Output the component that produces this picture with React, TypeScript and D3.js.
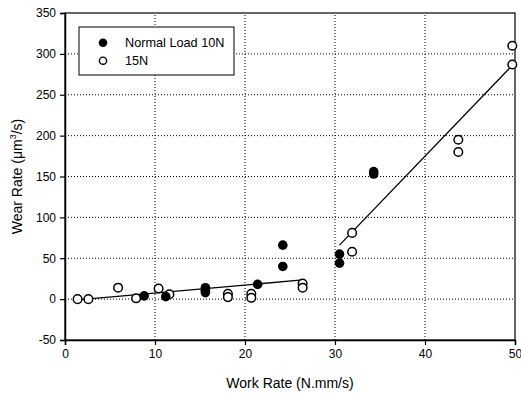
import React, { useEffect, useRef } from 'react';
import * as d3 from 'd3';

// Normal load 10N (filled)
const load10X = [8.8, 11.2, 15.6, 15.6, 15.6, 21.4, 24.2, 24.2, 30.5, 30.5, 34.3, 34.3];
const load10Y = [4, 3, 14, 11, 8, 18, 66, 40, 55, 44, 156, 153];

// 15N (open)
const load15X = [1.4, 2.6, 5.9, 7.9, 10.4, 11.6, 18.1, 18.1, 20.7, 20.7, 26.4, 26.4, 31.9, 31.9, 43.7, 43.7, 49.7, 49.7];
const load15Y = [0, 0, 14, 1, 13, 6, 6.5, 2.5, 6.5, 1.6, 19, 14, 81, 58, 195, 180, 310, 287];

// fitted lines (two regimes)
const lowFitX = [1.4, 26.4];
const lowFitY = [-1, 23.5];
const highFitX = [30.5, 49.7];
const highFitY = [66, 286];

const xTicks = [0, 10, 20, 30, 40, 50];
const yTicks = [-50, 0, 50, 100, 150, 200, 250, 300, 350];
const legendLabels = ['Normal Load 10N', '15N'];

const FONT = '"Liberation Sans", Arial, sans-serif';

const App: React.FC = () => {
  const ref = useRef<SVGSVGElement | null>(null);

  useEffect(() => {
    const width = 521;
    const height = 395;
    const svg = d3.select(ref.current).attr('width', width).attr('height', height);
    svg.selectAll('*').remove();

    const x = d3.scaleLinear().domain([0, 50]).range([65, 515]);
    const y = d3.scaleLinear().domain([-50, 350]).range([340, 13]);

    // grid
    const grid = svg.append('g');
    grid.selectAll('.gx')
      .data(xTicks.filter(t => t > 0 && t < 50))
      .enter().append('line')
      .attr('x1', d => x(d)).attr('x2', d => x(d))
      .attr('y1', y(-50)).attr('y2', y(350))
      .attr('stroke', '#000').attr('stroke-width', 1)
      .attr('stroke-dasharray', '1,2');
    grid.selectAll('.gy')
      .data(yTicks.filter(t => t > -50 && t < 350))
      .enter().append('line')
      .attr('x1', x(0)).attr('x2', x(50))
      .attr('y1', d => y(d)).attr('y2', d => y(d))
      .attr('stroke', '#000').attr('stroke-width', 1)
      .attr('stroke-dasharray', '1,2');

    // frame
    svg.append('rect')
      .attr('x', x(0)).attr('y', y(350))
      .attr('width', x(50) - x(0)).attr('height', y(-50) - y(350))
      .attr('fill', 'none').attr('stroke', '#000').attr('stroke-width', 1.2);

    // axes (plain hyphen for negatives, like the original)
    const fmt = (d: d3.NumberValue) => String(d);
    const xAxis = svg.append('g')
      .attr('transform', `translate(0,${y(-50)})`)
      .call(d3.axisBottom(x).tickValues(xTicks).tickFormat(fmt).tickSize(5).tickPadding(4));
    const yAxis = svg.append('g')
      .attr('transform', `translate(${x(0)},0)`)
      .call(d3.axisLeft(y).tickValues(yTicks).tickFormat(fmt).tickSize(5).tickPadding(4));
    [xAxis, yAxis].forEach(a => {
      a.select('.domain').attr('stroke-width', 1.5);
      a.selectAll('line').attr('stroke-width', 1.2);
      a.selectAll('text').attr('font-family', FONT).attr('font-size', 12).attr('fill', '#000');
    });

    // fit lines
    const line = d3.line<[number, number]>().x(d => x(d[0])).y(d => y(d[1]));
    [[lowFitX, lowFitY], [highFitX, highFitY]].forEach(([fx, fy]) => {
      svg.append('path')
        .attr('d', line(fx.map((v, i) => [v, fy[i]] as [number, number])))
        .attr('fill', 'none').attr('stroke', '#000').attr('stroke-width', 1.3);
    });

    // points
    svg.append('g').selectAll('circle')
      .data(load15X.map((v, i) => [v, load15Y[i]]))
      .enter().append('circle')
      .attr('cx', d => x(d[0])).attr('cy', d => y(d[1])).attr('r', 4.3)
      .attr('fill', '#fff').attr('stroke', '#000').attr('stroke-width', 1.5);
    svg.append('g').selectAll('circle')
      .data(load10X.map((v, i) => [v, load10Y[i]]))
      .enter().append('circle')
      .attr('cx', d => x(d[0])).attr('cy', d => y(d[1])).attr('r', 4.8)
      .attr('fill', '#000');

    // legend
    const lg = svg.append('g');
    lg.append('rect')
      .attr('x', 79).attr('y', 27).attr('width', 155).attr('height', 48)
      .attr('fill', '#fff').attr('stroke', '#000').attr('stroke-width', 1);
    legendLabels.forEach((lab, i) => {
      const cy = 42.7 + i * 18;
      lg.append('circle')
        .attr('cx', 103).attr('cy', cy).attr('r', i === 0 ? 4.3 : 3.6)
        .attr('fill', i === 0 ? '#000' : '#fff')
        .attr('stroke', '#000').attr('stroke-width', i === 0 ? 0 : 1.4);
      lg.append('text')
        .attr('x', 125).attr('y', cy + 4.6)
        .attr('font-family', FONT).attr('font-size', 12.7)
        .text(lab);
    });

    // axis titles
    svg.append('text')
      .attr('x', (x(0) + x(50)) / 2).attr('y', 388)
      .attr('text-anchor', 'middle')
      .attr('font-family', FONT).attr('font-size', 14)
      .text('Work Rate (N.mm/s)');

    const yt = svg.append('text')
      .attr('transform', `translate(22,${(y(-50) + y(350)) / 2}) rotate(-90)`)
      .attr('text-anchor', 'middle')
      .attr('font-family', FONT).attr('font-size', 14);
    yt.append('tspan').text('Wear Rate (\u03bcm');
    yt.append('tspan').attr('dy', -6).attr('font-size', 9).text('3');
    yt.append('tspan').attr('dy', 6).text('/s)');
  }, []);

  return (
    <svg ref={ref} style={{ position: 'absolute', left: 0, top: 0, background: '#fff' }}></svg>
  );
};

export default App;
